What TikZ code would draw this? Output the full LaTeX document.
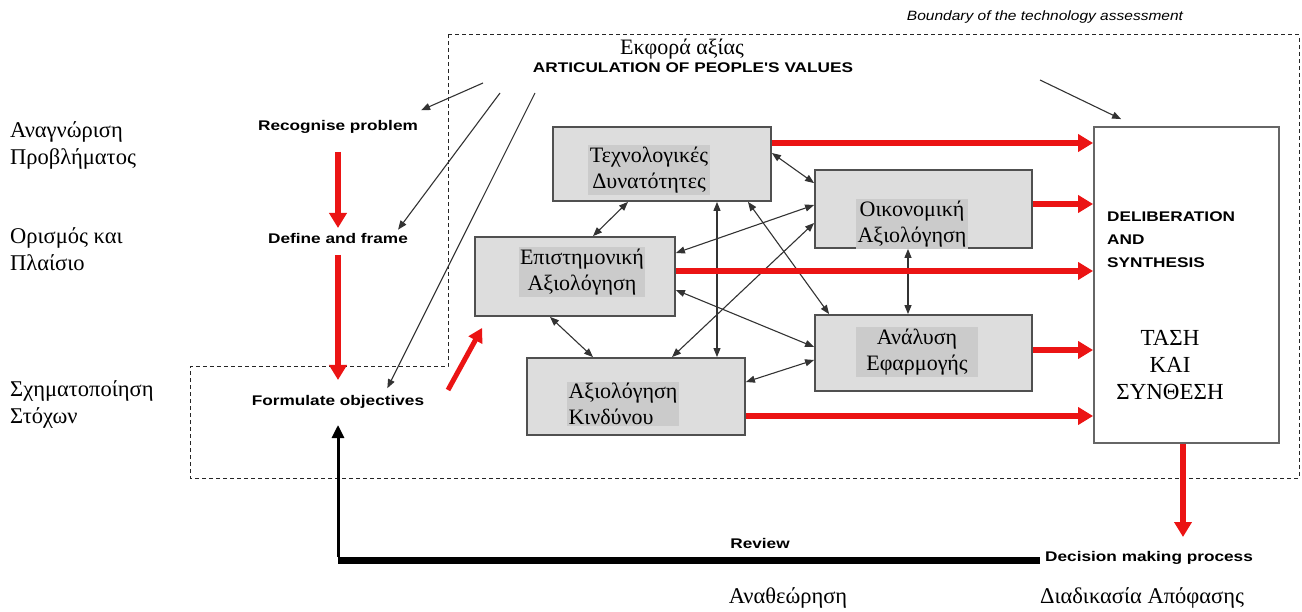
\documentclass[tikz,border=0pt]{standalone}
\usepackage{fontspec}
\setmainfont{Liberation Serif}
\setsansfont{Liberation Sans}
\newfontfamily\widesans[FakeStretch=1.23]{Liberation Sans}
\newfontfamily\wideital[FakeStretch=1.15]{Liberation Sans}
\usetikzlibrary{arrows.meta,calc}

\definecolor{flowred}{RGB}{235,20,20}
\definecolor{boxgray}{RGB}{221,221,221}
\definecolor{hlgray}{RGB}{203,203,203}
\definecolor{edgegray}{RGB}{80,80,80}

\begin{document}
\begin{tikzpicture}[x=1pt,y=-1pt,
  gbox/.style={draw=edgegray, line width=1.8pt, fill=boxgray, inner sep=0pt},
  hl/.style={fill=hlgray, inner sep=1.5pt, align=center, font=\fontsize{22}{26}\selectfont},
  grk/.style={align=left, anchor=west, inner sep=0pt, font=\fontsize{22.5}{27}\selectfont},
  stepname/.style={inner sep=0pt, font=\widesans\bfseries\fontsize{14}{16}\selectfont},
  flow/.style={draw=flowred, line width=6pt, -{Triangle[length=15pt,width=17pt]}},
  link/.style={draw=black!80, line width=1.1pt, {Triangle[length=9pt,width=7pt]}-{Triangle[length=9pt,width=7pt]}},
  cue/.style={draw=black!80, line width=1.1pt, -{Triangle[length=9pt,width=7pt]}},
  boundary/.style={draw=black!85, line width=1pt, dash pattern=on 4pt off 3pt}
]
\useasboundingbox (0,0) rectangle (1302,612);

% boundary of the assessment
\draw[boundary] (448,35) -- (1299,35) -- (1299,478) -- (190,478) -- (190,367) -- (448,367) -- cycle;
\node[inner sep=0pt, font=\wideital\itshape\fontsize{13.5}{16}\selectfont] (bnd) at (1045,17) {Boundary of the technology assessment};

% articulation of values
\node[inner sep=0pt, font=\fontsize{22}{24}\selectfont] (ekf) at (682,49) {Εκφορά αξίας};
\node[stepname] (apv) at (693,68) {ARTICULATION OF PEOPLE'S VALUES};

% left-hand stage names
\node[grk] (g1) at (10,145) {Αναγνώριση\\Προβλήματος};
\node[grk] (g2) at (10,249) {Ορισμός και\\Πλαίσιο};
\node[grk] (g3) at (10,404) {Σχηματοποίηση\\Στόχων};

% steps
\node[stepname] (rp) at (338,127) {Recognise problem};
\node[stepname] (df) at (338,238) {Define and frame};
\node[stepname] (fo) at (338,402) {Formulate objectives};

% assessment boxes
\node[gbox, minimum width=218, minimum height=74] (tech) at (662,164) {};
\node[hl] (techt) at (649,170) {Τεχνολογικές\\Δυνατότητες};
\node[gbox, minimum width=217, minimum height=78] (econ) at (923.5,209) {};
\node[hl] (econt) at (912,224) {Οικονομική\\Αξιολόγηση};
\node[gbox, minimum width=200, minimum height=79] (sci) at (575,276.5) {};
\node[hl] (scit) at (582,272) {Επιστημονική\\Αξιολόγηση};
\node[gbox, minimum width=217, minimum height=76] (impl) at (923.5,353) {};
\node[hl, inner xsep=10pt] (implt) at (917,352) {Ανάλυση\\Εφαρμογής};
\node[gbox, minimum width=218, minimum height=77] (risk) at (636,396.5) {};
\node[hl, align=left] (riskt) at (623,404) {Αξιολόγηση\\Κινδύνου};

% deliberation box
\node[draw=black!60, line width=1.8pt, fill=white, minimum width=185, minimum height=316, inner sep=0pt] (delib) at (1186.5,285) {};
\node[anchor=west, align=left, inner sep=0pt, font=\widesans\bfseries\fontsize{14}{23}\selectfont] (delt) at (1107,240) {DELIBERATION\\AND\\SYNTHESIS};
\node[align=center, inner sep=0pt, font=\fontsize{23}{27}\selectfont] (tash) at (1170,365) {ΤΑΣΗ\\ΚΑΙ\\ΣΥΝΘΕΣΗ};

% decision and review
\node[stepname, anchor=west] (dmp) at (1045,558) {Decision making process};
\node[stepname] (rev) at (760,543) {Review};
\node[inner sep=0pt, font=\fontsize{22.5}{24}\selectfont] (anath) at (788,598) {Αναθεώρηση};
\node[inner sep=0pt, font=\fontsize{22.5}{24}\selectfont] (diad) at (1142,598) {Διαδικασία Απόφασης};

% value cues
\coordinate (a1) at (483,83);
\coordinate (a2) at (500,93);
\coordinate (a3) at (535,93);
\coordinate (a4) at (1040,80);
\draw[cue] (a1) -- ([xshift=3pt,yshift=10pt]rp.north east);
\draw[cue] (a2) -- ([xshift=-10pt,yshift=3pt]df.north east);
\draw[cue] (a3) -- ([xshift=-37pt,yshift=7pt]fo.north east);
\draw[cue] (a4) -- ([xshift=28pt,yshift=7pt]delib.north west);

% main flow
\draw[flow] ([yshift=-25pt]rp.center) -- ([yshift=10pt]df.center);
\draw[flow] ([yshift=-17pt]df.center) -- ([yshift=22pt]fo.center);
\draw[flow, line width=5pt, -{Triangle[length=14pt,width=15pt]}] (448,390) -- ([xshift=8pt,yshift=-11pt]sci.south west);

% links between assessments
\draw[link] ([yshift=11pt]tech.east) -- ([yshift=-14pt]econ.north west);
\draw[link] ([xshift=-34pt]tech.south) -- ([xshift=18pt]sci.north);
\draw[link] ([yshift=4pt]econ.west) -- ([yshift=23.5pt]sci.east);
\draw[link] ([yshift=-14pt]econ.west) -- ([xshift=36pt]risk.north);
\draw[link] ([xshift=55pt]tech.south) -- ([xshift=81pt]risk.north);
\draw[link] ([xshift=86pt]tech.south) -- ([xshift=15pt]impl.north west);
\draw[link] ([yshift=-13.5pt]sci.east) -- ([yshift=6pt]impl.west);
\draw[link] ([yshift=14.5pt]risk.east) -- ([yshift=-7pt]impl.west);
\draw[link] ([xshift=-25pt]sci.south) -- ([xshift=-43pt]risk.north);
\draw[link] ([xshift=-15.5pt]econ.south) -- ([xshift=-15.5pt]impl.north);

% results into deliberation
\draw[flow] ([yshift=21pt]tech.east) -- ([yshift=21pt]tech.east -| delib.west);
\draw[flow] ([yshift=5pt]econ.east) -- ([yshift=5pt]econ.east -| delib.west);
\draw[flow] ([yshift=5.5pt]sci.east) -- ([yshift=5.5pt]sci.east -| delib.west);
\draw[flow] ([yshift=3pt]impl.east) -- ([yshift=3pt]impl.east -| delib.west);
\draw[flow] ([yshift=-19.5pt]risk.east) -- ([yshift=-19.5pt]risk.east -| delib.west);

% decision and feedback
\coordinate (dtip) at (1183,537);
\draw[flow] ([xshift=-3.5pt]delib.south) -- (dtip);
\coordinate (revL) at (338,560);
\coordinate (revR) at (1040,560);
\draw[line width=7pt] (revL) -- (revR);
\draw[line width=3pt, -{Triangle[length=13pt,width=12pt]}] ([yshift=3.5pt]revL) -- ([yshift=-23pt]fo.center);
\end{tikzpicture}
\end{document}
